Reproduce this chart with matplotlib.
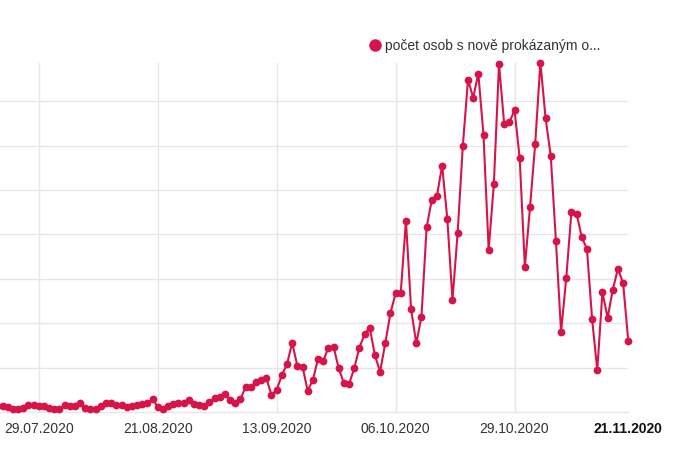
import matplotlib
matplotlib.use("Agg")
import matplotlib.pyplot as plt
import matplotlib.dates as mdates
from matplotlib.lines import Line2D
import pandas as pd
import numpy as np

plt.rcParams['font.family'] = ['Liberation Sans', 'DejaVu Sans']

# ---- data ----
start_date = "2020-07-21"
new_cases = [
    285, 285, 240, 135, 150, 200, 315, 315,            # 21.07 - 28.07
    290, 280, 165, 135, 140, 315, 290, 280, 390, 165,  # 29.07 - 07.08
    135, 140, 290, 390, 390, 330, 300, 240, 270, 330,  # 08.08 - 17.08
    350, 390, 570, 240, 120, 270, 360, 420, 400, 540,  # 18.08 - 27.08
    360, 315, 270, 465, 615, 690, 830, 520, 390, 570,  # 28.08 - 06.09
    1140, 1110, 1365, 1440, 1520, 765, 990, 1665, 2150, 3120,  # 07.09 - 16.09
    2085, 2040, 960, 1440, 2390, 2300, 2900, 2940, 1970, 1290,  # 17.09 - 26.09
    1260, 1970, 2900, 3500, 3800, 2550, 1815, 3090, 4450, 5350,  # 27.09 - 06.10
    5375, 8620, 4630, 3090, 4290, 8320, 9550, 9745, 11100, 8710,  # 07.10 - 16.10
    5045, 8080, 11980, 14970, 14160, 15240, 12465, 7300, 10270, 15665,  # 17.10 - 26.10
    12960, 13050, 13590, 11430, 6545, 9235, 12090, 15740, 13245, 11550,  # 27.10 - 05.11
    7720, 3605, 6035, 9010, 8935, 7870, 7350, 4190, 1880, 5405,  # 06.11 - 15.11
    4235, 5510, 6455, 5800, 3185,                                # 16.11 - 20.11
]
tick_dates = ["2020-07-29", "2020-08-21", "2020-09-13", "2020-10-06", "2020-10-29"]
tick_labels = ["29.07.2020", "21.08.2020", "13.09.2020", "06.10.2020", "29.10.2020"]
end_label = "21.11.2020"
series_label = "počet osob s nově prokázaným o..."
y_grid = [2000, 4000, 6000, 8000, 10000, 12000, 14000]

color = "#d7144a"

dates = pd.date_range(start_date, periods=len(new_cases), freq="D")
xnum = mdates.date2num(dates.to_pydatetime())
tnum = mdates.date2num(pd.to_datetime(tick_dates).to_pydatetime())

fig = plt.figure(figsize=(7.0, 4.71), dpi=100)
W, H = 700, 471
left_px, right_px, top_px, bottom_px = 0, 628.3, 63, 412
ax = fig.add_axes([left_px / W, 1 - bottom_px / H, (right_px - left_px) / W, (bottom_px - top_px) / H])

ax.plot(xnum, new_cases, color=color, linewidth=1.5, marker='o', markersize=5.6,
        markeredgewidth=0, zorder=3, clip_on=False)

ax.set_xlim(tnum[0] - 7.5, xnum[-1])
ax.set_ylim(0, 15720)

ax.set_xticks(tnum)
ax.set_xticklabels(tick_labels)
ax.set_xticks([xnum[-1]], minor=True)
ax.set_xticklabels([end_label], minor=True, fontweight='bold', color='#111111')
ax.set_yticks(y_grid)
ax.set_yticklabels([])
ax.tick_params(axis='both', which='both', length=0)
ax.tick_params(axis='x', which='both', pad=7, labelsize=10, labelcolor='#333333')
ax.tick_params(axis='x', which='minor', labelcolor='#111111')
ax.grid(True, which='major', color='#e6e6e6', linewidth=1.0)
ax.set_axisbelow(True)

for s in ['top', 'right', 'left']:
    ax.spines[s].set_visible(False)
ax.spines['bottom'].set_color('#e6e6e6')
ax.spines['bottom'].set_linewidth(1.0)

handle = Line2D([], [], linestyle='none', marker='o', markersize=9, markeredgewidth=0, color=color)
fig.legend([handle], [series_label], loc='center left',
           bbox_to_anchor=(368 / W, 1 - 46 / H), frameon=False,
           handletextpad=0.25, handlelength=1.0, borderpad=0, borderaxespad=0,
           prop={'size': 10}, labelcolor='#333333')

fig.savefig("out.png", dpi=100)
